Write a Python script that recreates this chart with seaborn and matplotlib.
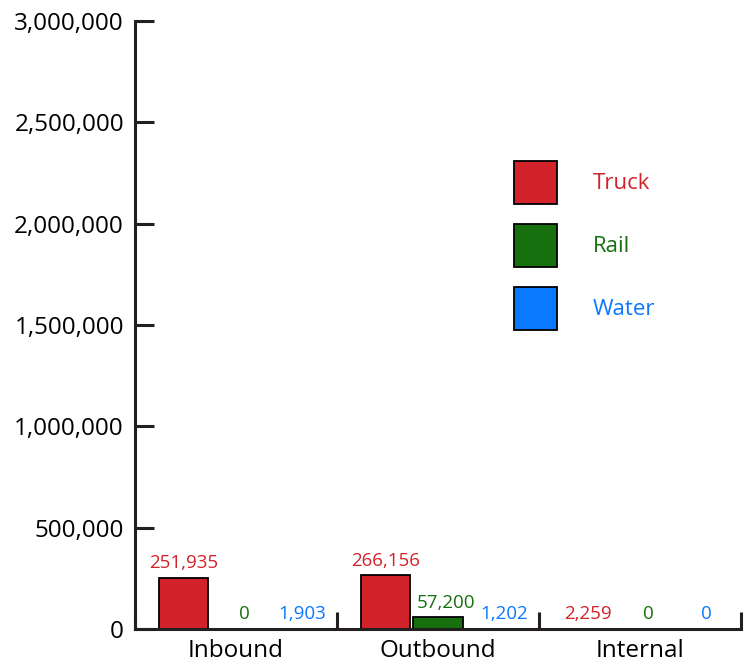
import matplotlib
matplotlib.use("Agg")
import matplotlib.pyplot as plt
import seaborn as sns
import pandas as pd

categories = ["Inbound", "Outbound", "Internal"]
modes = ["Truck", "Rail", "Water"]
truck = [251935, 266156, 2259]
rail = [0, 57200, 0]
water = [1903, 1202, 0]
colors = ["#D2232A", "#16700E", "#0A78FF"]
yticks = [0, 500000, 1000000, 1500000, 2000000, 2500000, 3000000]

rows = []
for mode, vals in zip(modes, [truck, rail, water]):
    for c, v in zip(categories, vals):
        rows.append({"category": c, "mode": mode, "value": v})
df = pd.DataFrame(rows)

sns.set_style("white")
plt.rcParams["font.family"] = ["Open Sans", "DejaVu Sans"]

fig = plt.figure(figsize=(7.49, 6.65), dpi=100)
ax = fig.add_axes([135/749, 36/665, 606/749, 608/665])

sns.barplot(data=df, x="category", y="value", hue="mode", order=categories,
            hue_order=modes, palette=colors, saturation=1, width=0.78, gap=0.05,
            edgecolor="black", linewidth=1.3, ax=ax, errorbar=None)

label_shift = [0, 6, 10]  # horizontal nudge in points per series
for cont, col, dx in zip(ax.containers, colors, label_shift):
    texts = ax.bar_label(cont, labels=[f"{v:,.0f}" for v in cont.datavalues],
                         color=col, fontsize=13.5, padding=4)
    for t in texts:
        t.xyann = (dx, t.xyann[1])

ax.set_xlim(-0.5, 2.5)
ax.set_ylim(0, 3000000)
ax.set_yticks(yticks)
ax.set_yticklabels([f"{v:,}" for v in yticks], fontsize=17.5)
ax.set_xticks([-0.5, 0.5, 1.5, 2.5])
ax.set_xticklabels([])
ax.set_xticks([0, 1, 2], minor=True)
ax.set_xticklabels(categories, minor=True, fontsize=17.5)
ax.tick_params(axis="x", which="major", bottom=True, direction="in", length=12,
               width=2.2, color="#231f20")
ax.tick_params(axis="x", which="minor", bottom=True, length=0, pad=7,
               labelcolor="black")
ax.tick_params(axis="y", left=True, direction="in", length=14, width=2.2,
               color="#231f20", pad=8, labelcolor="black")
ax.set_xlabel("")
ax.set_ylabel("")
for s in ["top", "right"]:
    ax.spines[s].set_visible(False)
for s in ["left", "bottom"]:
    ax.spines[s].set_linewidth(2.2)
    ax.spines[s].set_color("#231f20")

leg = ax.legend(loc="upper left", bbox_to_anchor=(0.6066, 0.788), frameon=False,
                fontsize=16, handlelength=1.94, handleheight=2.6,
                labelspacing=0.9, handletextpad=1.6, borderpad=0)
for t, col in zip(leg.get_texts(), colors):
    t.set_color(col)
for h in leg.legend_handles:
    h.set_edgecolor("black")
    h.set_linewidth(1.3)

fig.savefig("out.png", dpi=100)
